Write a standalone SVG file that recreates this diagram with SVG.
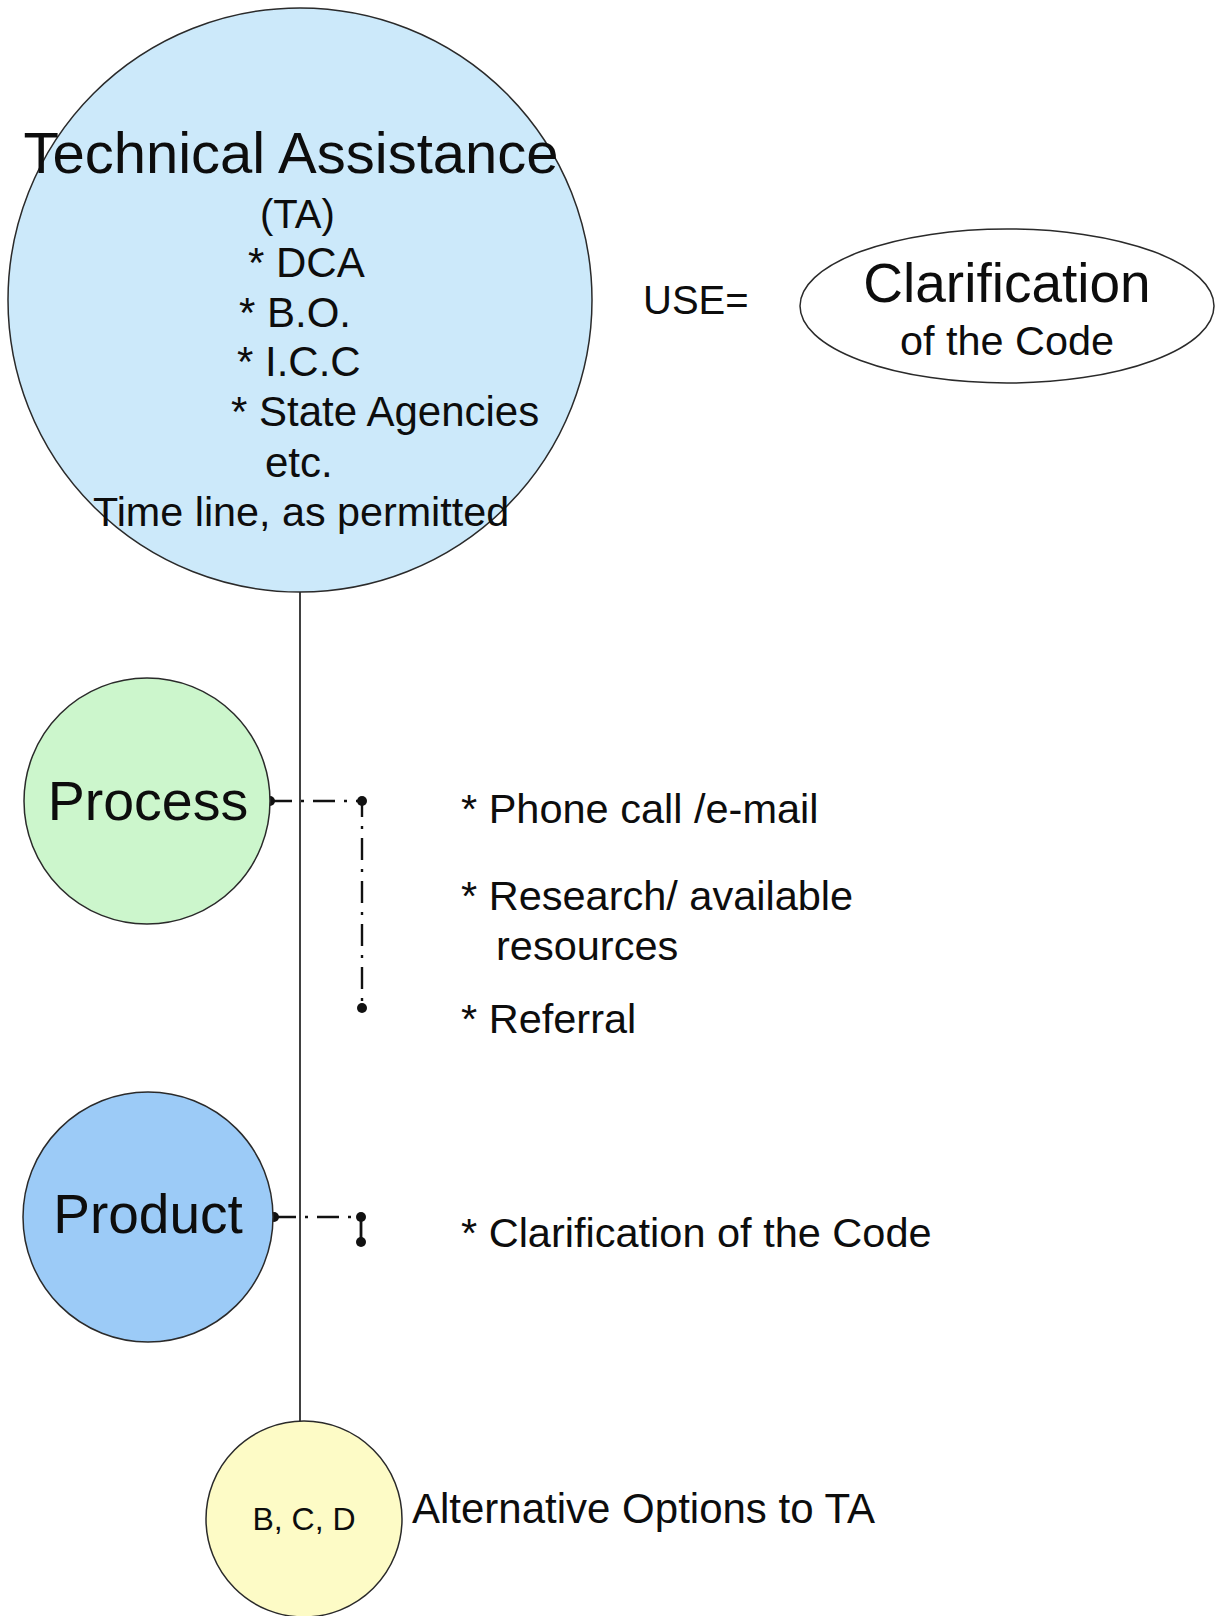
<svg xmlns="http://www.w3.org/2000/svg" width="1215" height="1616" viewBox="0 0 1215 1616">
<style>
  .t { font-family: "Liberation Sans", Arial, sans-serif; fill: #0d0d0d; }
  .node { stroke: #2a2a2a; stroke-width: 1.5; }
  .solid { stroke: #111; stroke-width: 1.6; fill: none; }
  .dd { stroke: #111; stroke-width: 2.4; fill: none; stroke-dasharray: 22 9 3 9; }
  .dot { fill: #111; }
</style>
<rect width="1215" height="1616" fill="#ffffff"/>

<g id="connectors">
  <line class="solid" x1="300" y1="592" x2="300" y2="1422"/>
  <path class="dd" d="M270,801 H362 V1008"/>
  <circle class="dot" cx="270" cy="801" r="5"/>
  <circle class="dot" cx="362" cy="801" r="5"/>
  <circle class="dot" cx="362" cy="1008" r="5"/>
  <path class="dd" d="M274,1217 H361"/>
  <line x1="361" y1="1217" x2="361" y2="1242" stroke="#111" stroke-width="2.8"/>
  <circle class="dot" cx="274" cy="1217" r="5"/>
  <circle class="dot" cx="361" cy="1217" r="5"/>
  <circle class="dot" cx="361" cy="1242" r="5"/>
</g>

<g id="node-ta">
  <circle class="node" cx="300" cy="300" r="292" fill="#CCE9FA"/>
  <text class="t" x="291" y="173" font-size="58" text-anchor="middle">Technical Assistance</text>
  <text class="t" x="260" y="228" font-size="40">(TA)</text>
  <text class="t" x="248" y="277" font-size="42">* DCA</text>
  <text class="t" x="239" y="327" font-size="42">* B.O.</text>
  <text class="t" x="237" y="376" font-size="42">* I.C.C</text>
  <text class="t" x="231" y="426" font-size="42">* State Agencies</text>
  <text class="t" x="265" y="477" font-size="42">etc.</text>
  <text class="t" x="93" y="526" font-size="41.3">Time line, as permitted</text>
</g>

<g id="use-label">
  <text class="t" x="643" y="314" font-size="40">USE=</text>
</g>

<g id="node-clarification">
  <ellipse class="node" cx="1007" cy="306" rx="207" ry="77" fill="#ffffff"/>
  <text class="t" x="1007" y="302" font-size="55" text-anchor="middle">Clarification</text>
  <text class="t" x="1007" y="355" font-size="41.4" text-anchor="middle">of the Code</text>
</g>

<g id="node-process">
  <circle class="node" cx="147" cy="801" r="123" fill="#CCF6CC"/>
  <text class="t" x="148" y="820" font-size="55.5" text-anchor="middle">Process</text>
</g>

<g id="process-items">
  <text class="t" x="461" y="823" font-size="41.5">* Phone call /e-mail</text>
  <text class="t" x="461" y="910" font-size="41.5">* Research/ available</text>
  <text class="t" x="496" y="960" font-size="41.5">resources</text>
  <text class="t" x="461" y="1033" font-size="41.5">* Referral</text>
</g>

<g id="node-product">
  <circle class="node" cx="148" cy="1217" r="125" fill="#9CCBF7"/>
  <text class="t" x="148" y="1233" font-size="55" text-anchor="middle">Product</text>
</g>

<g id="product-items">
  <text class="t" x="461" y="1247" font-size="41.5">* Clarification of the Code</text>
</g>

<g id="node-bcd">
  <circle class="node" cx="304" cy="1519" r="98" fill="#FDFBC6"/>
  <text class="t" x="304" y="1530" font-size="32" text-anchor="middle">B, C, D</text>
</g>

<g id="alt-label">
  <text class="t" x="412" y="1523" font-size="42">Alternative Options to TA</text>
</g>
</svg>
